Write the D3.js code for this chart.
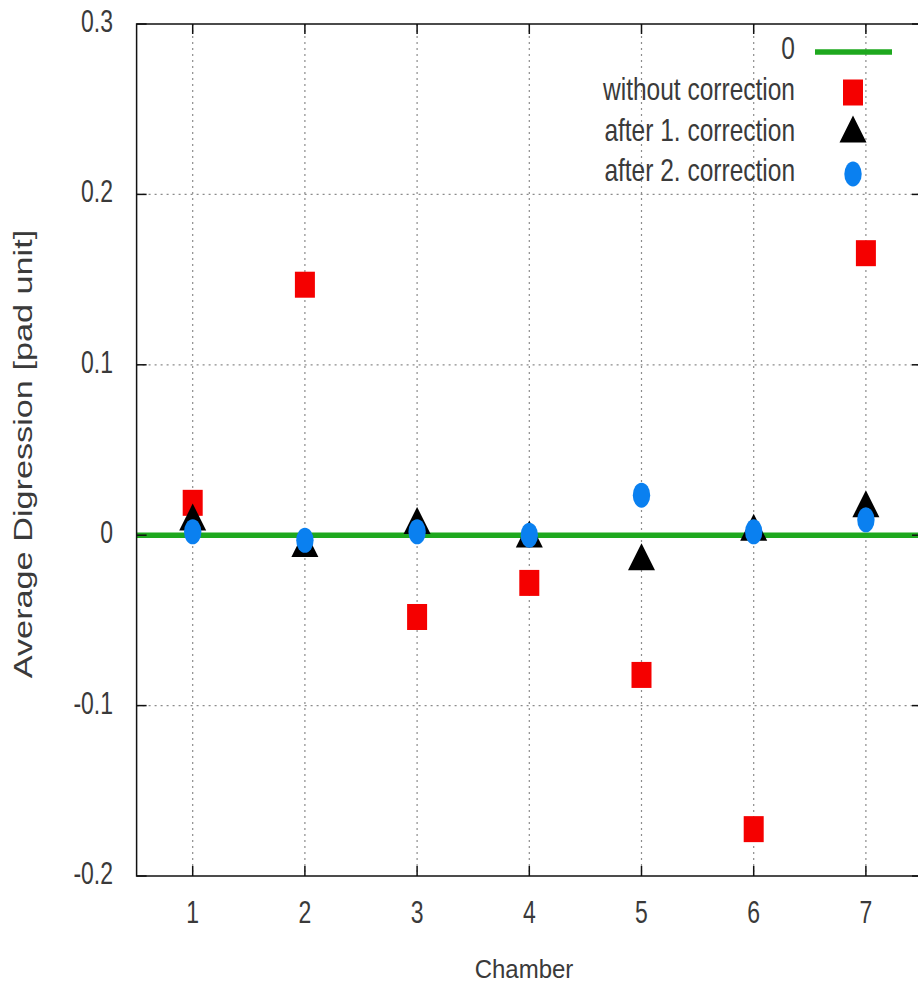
<!DOCTYPE html>
<html>
<head>
<meta charset="utf-8">
<script src="https://cdn.jsdelivr.net/npm/d3@7"></script>
<style>
  html, body { margin: 0; padding: 0; background: #fff; overflow: hidden; }
  svg { display: block; }
  text { font-family: "Liberation Sans", Arial, sans-serif; fill: #3a3a3a; }
</style>
</head>
<body>
<svg id="chart" width="918" height="986"></svg>
<script>
// Chamber numbers on the x axis
const chambers = [1, 2, 3, 4, 5, 6, 7];
// Average digression per chamber, in pad units
const withoutCorrection = [0.019, 0.147, -0.048, -0.028, -0.082, -0.1725, 0.1655];
const afterFirstCorrection = [0.008, -0.0075, 0.006, -0.002, -0.0153, 0.002, 0.0158];
const afterSecondCorrection = [0.002, -0.003, 0.002, 0.0, 0.0235, 0.002, 0.009];
// Axis ticks
const yTicks = [-0.2, -0.1, 0, 0.1, 0.2, 0.3];
const yTickLabels = ["-0.2", "-0.1", "0", "0.1", "0.2", "0.3"];
const xTickLabels = ["1", "2", "3", "4", "5", "6", "7"];
// Legend entries
const legendLabels = ["0", "without correction", "after 1. correction", "after 2. correction"];

const svg = d3.select("#chart");

const x = d3.scaleLinear().domain([0.5, 7.5]).range([136.6, 922]);
const y = d3.scaleLinear().domain([-0.2, 0.3]).range([876, 24]);

const COL_RED = "#f50000";
const COL_GREEN = "#1ea81e";
const COL_BLUE = "#0a80f0";

// dotted grid
const grid = svg.append("g").attr("stroke", "#8c8c8c").attr("stroke-width", 1.2)
  .attr("stroke-dasharray", "2,4");
grid.selectAll("line.v").data(chambers).join("line")
  .attr("x1", d => x(d)).attr("x2", d => x(d))
  .attr("y1", y(0.3)).attr("y2", y(-0.2));
grid.selectAll("line.h").data(yTicks.filter(d => d > -0.2 && d < 0.3)).join("line")
  .attr("x1", x(0.5)).attr("x2", x(7.5))
  .attr("y1", d => y(d)).attr("y2", d => y(d));

// zero reference line
svg.append("line")
  .attr("x1", x(0.5)).attr("x2", x(7.5))
  .attr("y1", y(0)).attr("y2", y(0))
  .attr("stroke", COL_GREEN).attr("stroke-width", 5.5);

// frame and inward ticks
const frame = svg.append("g").attr("stroke", "#111").attr("stroke-width", 1.5).attr("fill", "none");
frame.append("rect")
  .attr("x", x(0.5)).attr("y", y(0.3))
  .attr("width", x(7.5) - x(0.5)).attr("height", y(-0.2) - y(0.3));
const tickLen = 10;
chambers.forEach(c => {
  frame.append("line").attr("x1", x(c)).attr("x2", x(c)).attr("y1", y(-0.2)).attr("y2", y(-0.2) - tickLen);
  frame.append("line").attr("x1", x(c)).attr("x2", x(c)).attr("y1", y(0.3)).attr("y2", y(0.3) + tickLen);
});
yTicks.forEach(t => {
  frame.append("line").attr("x1", x(0.5)).attr("x2", x(0.5) + tickLen).attr("y1", y(t)).attr("y2", y(t));
  frame.append("line").attr("x1", x(7.5)).attr("x2", x(7.5) - tickLen).attr("y1", y(t)).attr("y2", y(t));
});

// tick labels
const TICK_FS = 23, TICK_SY = 1.33;
svg.append("g").selectAll("text").data(yTicks).join("text")
  .attr("transform", d => `translate(113,${y(d) + 8}) scale(1,${TICK_SY})`)
  .attr("text-anchor", "end").attr("font-size", TICK_FS)
  .text((d, i) => yTickLabels[i]);
svg.append("g").selectAll("text").data(chambers).join("text")
  .attr("transform", d => `translate(${x(d)},923) scale(1,${TICK_SY})`)
  .attr("text-anchor", "middle").attr("font-size", TICK_FS)
  .text((d, i) => xTickLabels[i]);

// axis titles
svg.append("text")
  .attr("transform", "translate(524,978) scale(1,1.1)")
  .attr("text-anchor", "middle").attr("font-size", 24)
  .text("Chamber");
svg.append("text")
  .attr("transform", "translate(32,454) rotate(-90) scale(1.37,1)")
  .attr("text-anchor", "middle").attr("font-size", 25)
  .text("Average Digression [pad unit]");

// marker shapes
const SQ_W = 20, SQ_H = 26;
const triPath = "M0,-18 L13.5,9 L-13.5,9 Z";
const CIR_RX = 8.7, CIR_RY = 12.5;

const pts = chambers.map((c, i) => ({ c, a: withoutCorrection[i], b: afterFirstCorrection[i], e: afterSecondCorrection[i] }));

svg.append("g").selectAll("rect").data(pts).join("rect")
  .attr("x", d => x(d.c) - SQ_W / 2).attr("y", d => y(d.a) - SQ_H / 2)
  .attr("width", SQ_W).attr("height", SQ_H).attr("fill", COL_RED);
svg.append("g").selectAll("path").data(pts).join("path")
  .attr("transform", d => `translate(${x(d.c)},${y(d.b)})`)
  .attr("d", triPath).attr("fill", "#000");
svg.append("g").selectAll("ellipse").data(pts).join("ellipse")
  .attr("cx", d => x(d.c)).attr("cy", d => y(d.e))
  .attr("rx", CIR_RX).attr("ry", CIR_RY).attr("fill", COL_BLUE);

// legend
const LEG_FS = 24.5, LEG_SY = 1.27;
const legRows = [52, 92.5, 133.5, 174];
const legText = 795, legMark = 853;
const leg = svg.append("g");
leg.selectAll("text").data(legendLabels).join("text")
  .attr("transform", (d, i) => `translate(${legText},${legRows[i] + 7}) scale(1,${LEG_SY})`)
  .attr("text-anchor", "end").attr("font-size", LEG_FS)
  .text(d => d);
leg.append("line")
  .attr("x1", 815).attr("x2", 892).attr("y1", legRows[0]).attr("y2", legRows[0])
  .attr("stroke", COL_GREEN).attr("stroke-width", 5.5);
leg.append("rect")
  .attr("x", legMark - SQ_W / 2).attr("y", legRows[1] - SQ_H / 2)
  .attr("width", SQ_W).attr("height", SQ_H).attr("fill", COL_RED);
leg.append("path")
  .attr("transform", `translate(${legMark},${legRows[2]})`)
  .attr("d", triPath).attr("fill", "#000");
leg.append("ellipse")
  .attr("cx", legMark).attr("cy", legRows[3])
  .attr("rx", CIR_RX).attr("ry", CIR_RY).attr("fill", COL_BLUE);
</script>
</body>
</html>
